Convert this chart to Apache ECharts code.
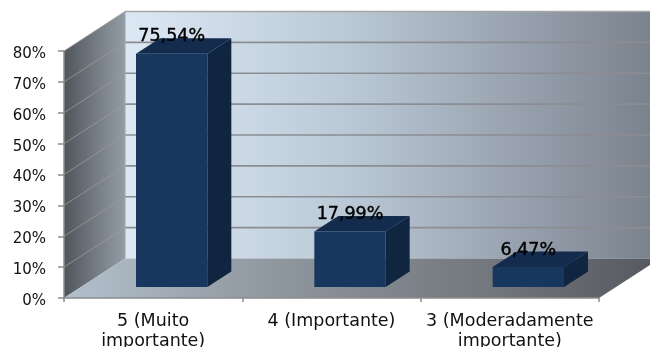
<!DOCTYPE html>
<html><head><meta charset="utf-8">
<style>html,body{margin:0;padding:0;background:#fff}#c{width:650px;height:347px}</style>
<script src="https://cdn.jsdelivr.net/npm/echarts@6/dist/echarts.min.js"></script>
</head><body><div id="c"></div>
<script>
const categories = ['5 (Muito\nimportante)', '4 (Importante)', '3 (Moderadamente\nimportante)'];
const values = [75.54, 17.99, 6.47];
const valueLabels = ['75,54%', '17,99%', '6,47%'];
const yTicks = [0, 10, 20, 30, 40, 50, 60, 70, 80];

// oblique projection: pixel shift of the back of the room and of the bars
const wallDx = 61, wallDy = -39.5;
const barFrontDx = 18.5, barFrontDy = -11;
const barDepthDx = 24, barDepthDy = -15.5;
const lg = (stops) => new echarts.graphic.LinearGradient(0, 0, 1, 0, stops.map((c) => ({offset: c[0], color: c[1]})));
const fontFamily = '"DejaVu Sans", Verdana, sans-serif';

const chart = echarts.init(document.getElementById('c'), null, {renderer: 'canvas'});

function renderRoom(params, api) {
  const half = api.size([1, 0])[0] / 2;
  const left = (t) => { const p = api.coord([0, t]); return [p[0] - half, p[1]]; };
  const right = (t) => { const p = api.coord([categories.length - 1, t]); return [p[0] + half, p[1]]; };
  const p00 = left(0), p10 = right(0), p01 = left(80), p11 = right(80);
  const b = (p) => [p[0] + wallDx, p[1] + wallDy];
  const children = [
    {type: 'polygon', shape: {points: [p00, p01, b(p01), b(p00)]},
      style: {fill: lg([[0, '#50555c'], [0.5, '#737a82'], [1, '#939ca5']])}},
    {type: 'polygon', shape: {points: [b(p00), b(p01), b(p11), b(p10)]},
      style: {fill: lg([[0, '#dde8f5'], [0.4, '#bccad8'], [0.7, '#9ca6b3'], [1, '#78808a']])}},
    {type: 'polygon', shape: {points: [p00, p10, b(p10), b(p00)]},
      style: {fill: lg([[0, '#b3c0cc'], [0.35, '#8f979f'], [0.7, '#74787f'], [1, '#55585e']])}}
  ];
  yTicks.forEach((t) => {
    const a = left(t), c = right(t);
    if (t > 0) {
      children.push({type: 'line', shape: {x1: a[0], y1: a[1], x2: b(a)[0], y2: b(a)[1]},
        style: {stroke: '#9d9a94', lineWidth: 0.8}});
      children.push({type: 'line', shape: {x1: b(a)[0], y1: b(a)[1], x2: b(c)[0], y2: b(c)[1]},
        style: {stroke: t === 80 ? '#a6a6a6' : '#8b8d92', lineWidth: 1.6}});
    }
  });
  const bl = b(p00), tl = b(p01);
  children.push({type: 'line', shape: {x1: bl[0], y1: bl[1], x2: tl[0], y2: tl[1]}, style: {stroke: '#a3a8ae', lineWidth: 1.2}});
  return {type: 'group', children};
}

function renderBar(params, api) {
  const i = api.value(0), v = api.value(1);
  const base = api.coord([i, 0]), top = api.coord([i, v]);
  const w = api.size([1, 0])[0] * 0.4;
  const x0 = base[0] + barFrontDx - w / 2, x1 = x0 + w;
  const y0 = base[1] + barFrontDy, y1 = top[1] + barFrontDy;
  const dx = barDepthDx, dy = barDepthDy;
  return {type: 'group', children: [
    {type: 'polygon', shape: {points: [[x1, y0], [x1, y1], [x1 + dx, y1 + dy], [x1 + dx, y0 + dy]]}, style: {fill: '#10253f'}},
    {type: 'polygon', shape: {points: [[x0, y1], [x1, y1], [x1 + dx, y1 + dy], [x0 + dx, y1 + dy]]}, style: {fill: '#132c4d'}},
    {type: 'rect', shape: {x: x0, y: y1, width: w, height: y0 - y1}, style: {fill: '#17375e'}},
    {type: 'text', z2: 10, style: {text: valueLabels[i], x: x0 + w / 2, y: y1 - 17, align: 'center', verticalAlign: 'middle',
      fill: '#000', stroke: '#000', lineWidth: 0.4, font: '17.5px ' + fontFamily}}
  ]};
}

chart.setOption({
  animation: false,
  backgroundColor: '#fff',
  grid: {left: 64, right: 51, top: 51, bottom: 49, outerBoundsMode: 'none'},
  xAxis: {
    type: 'category', data: categories, z: 5,
    axisLine: {lineStyle: {color: '#8c8c8c', width: 1.5}},
    axisTick: {show: true, length: 4, alignWithLabel: false, lineStyle: {color: '#8c8c8c', width: 1.5}},
    axisLabel: {color: '#111', fontSize: 17.5, fontFamily, margin: 13, lineHeight: 20, interval: 0}
  },
  yAxis: {
    type: 'value', min: 0, max: 80, interval: 10, z: 5,
    axisLine: {show: true, lineStyle: {color: '#8c8c8c', width: 1.5}},
    axisTick: {show: true, length: 6, lineStyle: {color: '#8c8c8c', width: 1.5}},
    splitLine: {show: false},
    axisLabel: {color: '#111', fontSize: 15, fontFamily, margin: 18, verticalAlign: 'top', lineHeight: 6, formatter: '{value}%'}
  },
  series: [
    {type: 'custom', z: 1, silent: true, clip: false, renderItem: renderRoom, data: [[0, 0]], encode: {x: 0, y: 1}},
    {type: 'custom', z: 2, silent: true, clip: false, renderItem: renderBar,
      data: values.map((v, i) => [i, v]), encode: {x: 0, y: 1}}
  ]
});
</script></body></html>
